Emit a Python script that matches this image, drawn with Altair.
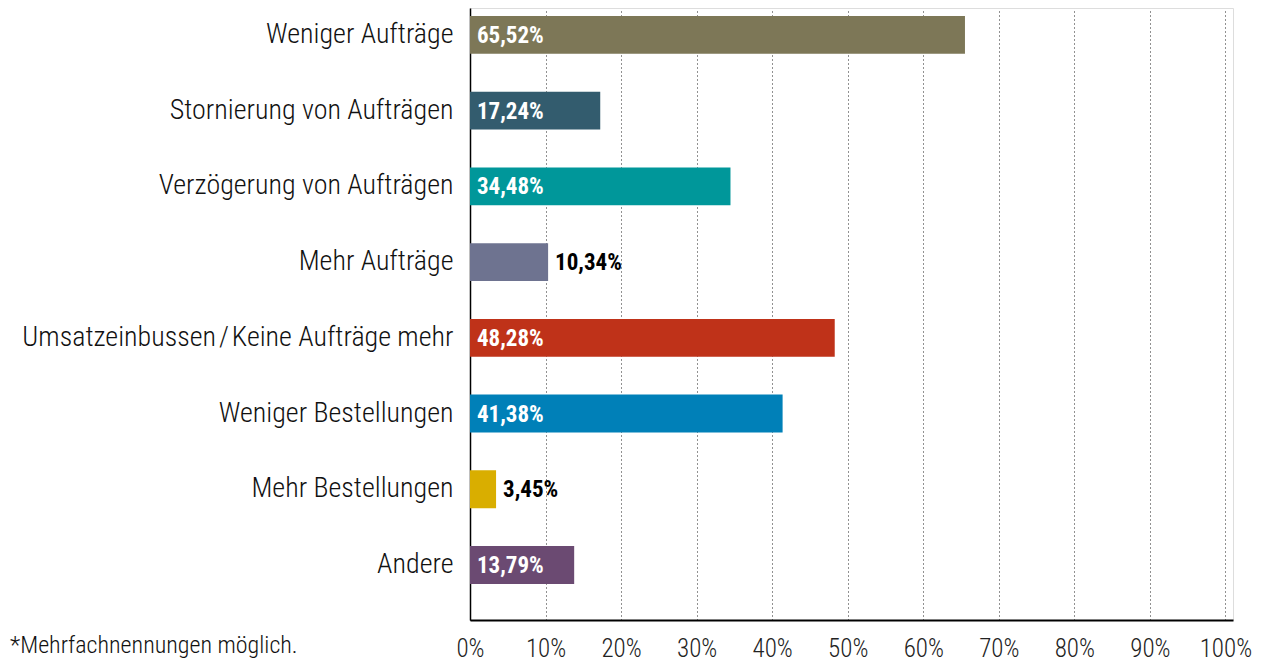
import altair as alt
import pandas as pd

categories = [
    "Weniger Aufträge",
    "Stornierung von Aufträgen",
    "Verzögerung von Aufträgen",
    "Mehr Aufträge",
    "Umsatzeinbussen\u200a/\u200aKeine Aufträge mehr",
    "Weniger Bestellungen",
    "Mehr Bestellungen",
    "Andere",
]
values = [65.52, 17.24, 34.48, 10.34, 48.28, 41.38, 3.45, 13.79]
labels = ["65,52%", "17,24%", "34,48%", "10,34%", "48,28%", "41,38%", "3,45%", "13,79%"]
colors = ["#7d7757", "#335c6e", "#00979a", "#6e7390", "#bf3219", "#0080b8", "#d9ae00", "#6b4a72"]
x_ticks = [0, 10, 20, 30, 40, 50, 60, 70, 80, 90, 100]
footnote = "*Mehrfachnennungen möglich."

FONT = "Roboto Condensed, Liberation Sans Narrow, DejaVu Sans Condensed, Roboto, sans-serif"

df = pd.DataFrame({"cat": categories, "v": values, "lab": labels})

yscale = alt.Scale(domain=categories, paddingInner=0.5, paddingOuter=0.29, align=0.18)
xscale = alt.Scale(domain=[0, 101], nice=False, zero=True)

base = alt.Chart(df)

bars = base.mark_bar().encode(
    y=alt.Y("cat:N", scale=yscale, sort=categories, title=None,
            axis=alt.Axis(labelFont=FONT, labelFontSize=28, labelFontWeight=300,
                          labelColor="#111", labelLimit=600, labelPadding=17,
                          ticks=False, domainColor="#000", domainWidth=1.5, grid=False)),
    x=alt.X("v:Q", scale=xscale, title=None,
            axis=alt.Axis(values=x_ticks, labelExpr="datum.value + '%'",
                          labelFont=FONT, labelFontSize=25, labelFontWeight=300,
                          labelColor="#222", labelPadding=16, labelFlush=False,
                          ticks=False, domainColor="#000", domainWidth=2,
                          grid=True, gridDash=[1, 3], gridColor="#222", gridWidth=1)),
    color=alt.Color("cat:N", scale=alt.Scale(domain=categories, range=colors), legend=None),
)

inside = base.transform_filter("datum.v >= 12").mark_text(
    align="left", baseline="middle", dx=7, dy=1, color="white",
    font=FONT, fontSize=23, fontWeight="bold"
).encode(
    y=alt.Y("cat:N", scale=yscale, sort=categories),
    x=alt.datum(0),
    text="lab:N",
)

outside = base.transform_filter("datum.v < 12").mark_text(
    align="left", baseline="middle", dx=7, dy=1, color="#000",
    font=FONT, fontSize=23, fontWeight="bold"
).encode(
    y=alt.Y("cat:N", scale=yscale, sort=categories),
    x=alt.X("v:Q", scale=xscale),
    text="lab:N",
)

note = alt.Chart(pd.DataFrame({"t": [footnote]})).mark_text(
    align="left", baseline="middle", font=FONT, fontSize=24, fontWeight=300,
    color="#111"
).encode(
    x=alt.value(-460), y=alt.value(638), text="t:N"
)

chart = alt.layer(bars, inside, outside, note).properties(
    width=763, height=612,
    autosize=alt.AutoSizeParams(type="none"),
    padding={"left": 462, "top": 0, "right": 23, "bottom": 42},
).configure_view(stroke=None).configure(background="white")

chart.save("out.html", embed_options={"renderer": "svg", "actions": False})
